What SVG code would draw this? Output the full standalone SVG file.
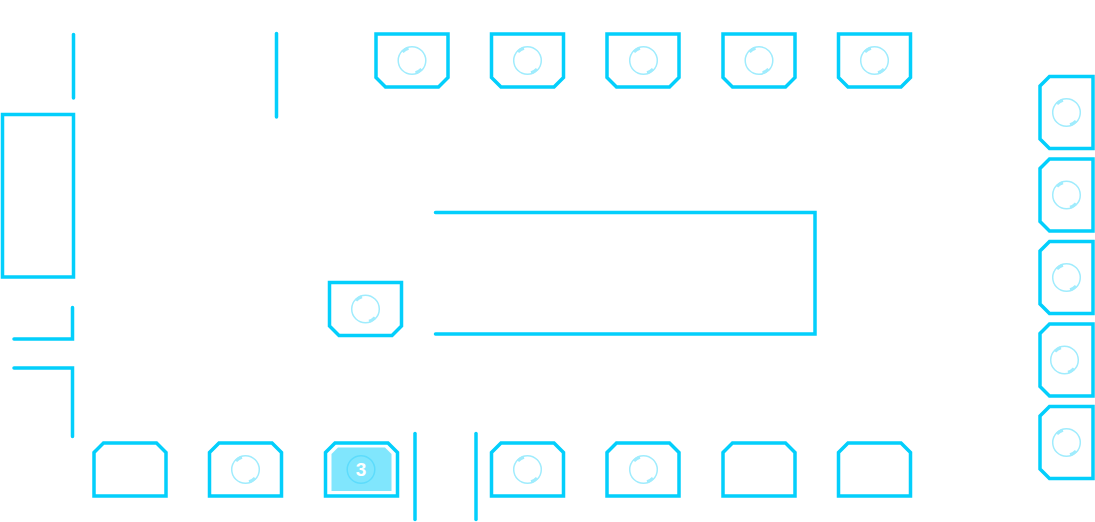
<svg xmlns="http://www.w3.org/2000/svg" width="1095" height="522" viewBox="0 0 1095 522">
<style>
.l{fill:none;stroke:#03cffc;stroke-width:3.500;stroke-linecap:round;stroke-linejoin:miter}
.t{fill:#fff;stroke:#03cffc;stroke-width:3.500;stroke-linejoin:miter}
.c{fill:none;stroke:#a0ecfd;stroke-width:1.500}
.k{fill:none;stroke:#a0ecfd;stroke-width:3}
text{font-family:"Liberation Sans",Arial,sans-serif;font-weight:700;font-size:19px;fill:#fff;text-anchor:middle}
</style>
<defs>
<g id="ring"><circle class="c" r="13.800"/><path class="k" d="M-9.500-8.600A12.800 12.800 0 0 1-3.500-12.300M9.500 8.600A12.800 12.800 0 0 1 3.500 12.300"/></g>
<polygon id="down" class="t" points="0,0 72,0 72,43.500 62.500,53 9.500,53 0,43.500"/>
<polygon id="up" class="t" points="9.500,0 62.500,0 72,9.500 72,53 0,53 0,9.500"/>
<polygon id="left" class="t" points="9.500,0 53,0 53,72 9.500,72 0,62.500 0,9.500"/>
</defs>
<g id="connectors">
<path class="l" d="M73.500 34.500V98"/>
<path class="l" d="M276.500 33.500V117"/>
<path class="l" d="M435.500 212.500H815V334H435.500"/>
<path class="l" d="M14 339H72.500V307.500"/>
<path class="l" d="M14 368H72.500V436.500"/>
<path class="l" d="M415 433.500V519.500"/>
<path class="l" d="M476 433.500V519.500"/>
</g>
<g id="panel"><rect class="t" x="2.500" y="114.500" width="71" height="162.500"/></g>
<g id="top1"><use href="#down" x="376" y="34"/><use href="#ring" x="412" y="60.500"/></g>
<g id="top2"><use href="#down" x="491.500" y="34"/><use href="#ring" x="527.500" y="60.500"/></g>
<g id="top3"><use href="#down" x="607" y="34"/><use href="#ring" x="643.500" y="60.500"/></g>
<g id="top4"><use href="#down" x="723" y="34"/><use href="#ring" x="759" y="60.500"/></g>
<g id="top5"><use href="#down" x="838.500" y="34"/><use href="#ring" x="874.500" y="60.500"/></g>
<g id="middle"><use href="#down" x="329.500" y="282.500"/><use href="#ring" x="365.500" y="309"/></g>
<g id="right1"><use href="#left" x="1040" y="76.500"/><use href="#ring" x="1066.500" y="112.500"/></g>
<g id="right2"><use href="#left" x="1040" y="159"/><use href="#ring" x="1066.500" y="195"/></g>
<g id="right3"><use href="#left" x="1040" y="241.500"/><use href="#ring" x="1066.500" y="277.500"/></g>
<g id="right4"><use href="#left" x="1040" y="324"/><use href="#ring" x="1064.500" y="360"/></g>
<g id="right5"><use href="#left" x="1040" y="406.500"/><use href="#ring" x="1066.500" y="442.500"/></g>
<g id="bottom1"><use href="#up" x="94" y="443"/></g>
<g id="bottom2"><use href="#up" x="209.500" y="443"/><use href="#ring" x="245.500" y="469.500"/></g>
<g id="bottom3">
<use href="#up" x="325.500" y="443"/>
<polygon points="338,447.500 385,447.500 391.500,454 391.500,491 331.500,491 331.500,454" fill="#80e6fd"/>
<circle cx="361" cy="469.500" r="13.800" fill="none" stroke="#5ddcfc" stroke-width="1.500"/>
<text x="361" y="476">3</text>
</g>
<g id="bottom4"><use href="#up" x="491.500" y="443"/><use href="#ring" x="527.500" y="469.500"/></g>
<g id="bottom5"><use href="#up" x="607" y="443"/><use href="#ring" x="643.500" y="469.500"/></g>
<g id="bottom6"><use href="#up" x="723" y="443"/></g>
<g id="bottom7"><use href="#up" x="838.500" y="443"/></g>
</svg>
